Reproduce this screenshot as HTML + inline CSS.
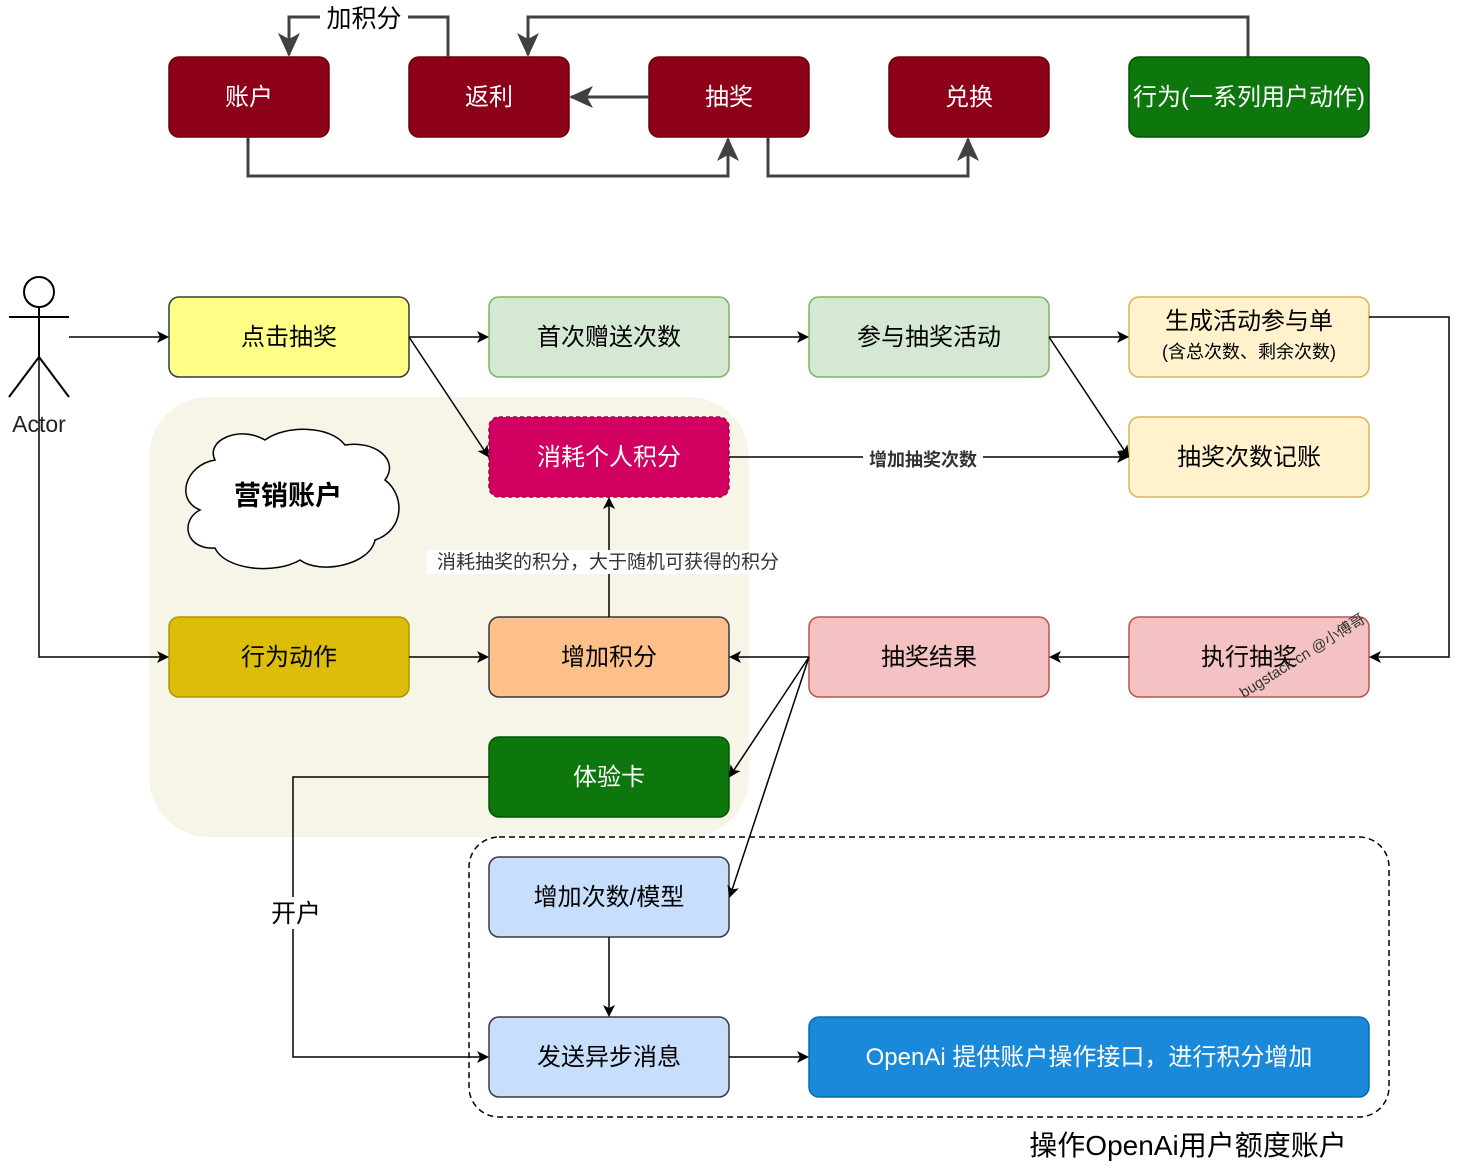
<!DOCTYPE html>
<html><head><meta charset="utf-8"><style>
body{margin:0;background:#fff}
text{font-family:"Liberation Sans","Noto Sans CJK SC",sans-serif}
</style></head><body>
<svg width="1460" height="1168" viewBox="0 0 1460 1168" xmlns="http://www.w3.org/2000/svg">
<defs>
<marker id="a" markerWidth="12" markerHeight="12" refX="10" refY="6" orient="auto" markerUnits="userSpaceOnUse"><path d="M0,0 L12,6 L0,12 L3,6 Z" fill="#000"/></marker>
<marker id="g" markerWidth="24" markerHeight="24" refX="22" refY="12" orient="auto" markerUnits="userSpaceOnUse"><path d="M0,1 L24,12 L0,23 L6,12 Z" fill="#404040"/></marker>
</defs>
<rect x="149" y="397" width="600" height="440" rx="60" fill="#f7f5e7"/>
<rect x="469" y="837" width="920" height="280" rx="30" fill="none" stroke="#000" stroke-width="1.5" stroke-dasharray="6,4"/>
<g stroke="#6f0000" stroke-width="1.5" fill="#8c001a">
<rect x="169" y="57" width="160" height="80" rx="10"/>
<rect x="409" y="57" width="160" height="80" rx="10"/>
<rect x="649" y="57" width="160" height="80" rx="10"/>
<rect x="889" y="57" width="160" height="80" rx="10"/>
</g>
<rect x="1129" y="57" width="240" height="80" rx="10" fill="#0d760d" stroke="#005700" stroke-width="1.5"/>
<g font-size="24" fill="#fff" text-anchor="middle">
<text x="249" y="105">账户</text><text x="489" y="105">返利</text><text x="729" y="105">抽奖</text><text x="969" y="105">兑换</text><text x="1249" y="105">行为(一系列用户动作)</text>
</g>
<g stroke="#404040" stroke-width="3" fill="none">
<path d="M448,57 V17 H289 V55" marker-end="url(#g)"/>
<path d="M1248,57 V17 H528 V55" marker-end="url(#g)"/>
<path d="M649,97 H571" marker-end="url(#g)"/>
<path d="M248,137 V176 H728 V139" marker-end="url(#g)"/>
<path d="M768,137 V176 H968 V139" marker-end="url(#g)"/>
</g>
<rect x="320" y="3" width="88" height="28" fill="#fff"/>
<text x="364" y="27" font-size="25" text-anchor="middle" fill="#000">加积分</text>
<g stroke="#000" stroke-width="2" fill="#fff">
<circle cx="39" cy="292" r="15"/>
<path d="M39,307 V357 M9,317 H69 M39,357 L9,397 M39,357 L69,397" fill="none"/>
</g>
<text x="39" y="432" font-size="23" text-anchor="middle" fill="#222">Actor</text>
<path d="M215,460 C205,440 240,425 265,440 C285,425 330,425 345,445 C375,440 400,460 385,480 C405,495 405,530 375,540 C370,565 320,575 300,560 C275,575 225,570 215,548 C185,550 180,520 200,510 C175,500 185,465 215,460 Z" fill="#fff" stroke="#000" stroke-width="1.5"/>
<text x="288" y="505" font-size="27" font-weight="bold" text-anchor="middle">营销账户</text>
<g stroke-width="1.5">
<rect x="169" y="297" width="240" height="80" rx="10" fill="#ffff88" stroke="#36393d"/>
<rect x="489" y="297" width="240" height="80" rx="10" fill="#d5e8d4" stroke="#82b366"/>
<rect x="809" y="297" width="240" height="80" rx="10" fill="#d5e8d4" stroke="#82b366"/>
<rect x="1129" y="297" width="240" height="80" rx="10" fill="#fff2cc" stroke="#d6b656"/>
<rect x="1129" y="417" width="240" height="80" rx="10" fill="#fff2cc" stroke="#d6b656"/>
<rect x="489" y="417" width="240" height="80" rx="10" fill="#d20060" stroke="#a50040" stroke-dasharray="4,3"/>
<rect x="169" y="617" width="240" height="80" rx="10" fill="#dcbe0a" stroke="#b09500"/>
<rect x="489" y="617" width="240" height="80" rx="10" fill="#fdc08a" stroke="#36393d"/>
<rect x="809" y="617" width="240" height="80" rx="10" fill="#f4c2c2" stroke="#b85450"/>
<rect x="1129" y="617" width="240" height="80" rx="10" fill="#f4c2c2" stroke="#b85450"/>
<rect x="489" y="737" width="240" height="80" rx="10" fill="#0d760d" stroke="#005700"/>
<rect x="489" y="857" width="240" height="80" rx="10" fill="#c7dffc" stroke="#36393d"/>
<rect x="489" y="1017" width="240" height="80" rx="10" fill="#c7dffc" stroke="#36393d"/>
<rect x="809" y="1017" width="560" height="80" rx="10" fill="#1b89d9" stroke="#006eaf"/>
</g>
<g font-size="24" text-anchor="middle" fill="#000">
<text x="289" y="345">点击抽奖</text>
<text x="609" y="345">首次赠送次数</text>
<text x="929" y="345">参与抽奖活动</text>
<text x="1249" y="329">生成活动参与单</text>
<text x="1249" y="358" font-size="18">(含总次数、剩余次数)</text>
<text x="1249" y="465">抽奖次数记账</text>
<text x="609" y="465" fill="#fff">消耗个人积分</text>
<text x="289" y="665">行为动作</text>
<text x="609" y="665">增加积分</text>
<text x="929" y="665">抽奖结果</text>
<text x="1249" y="665">执行抽奖</text>
<text x="609" y="785" fill="#fff">体验卡</text>
<text x="609" y="905">增加次数/模型</text>
<text x="609" y="1065">发送异步消息</text>
<text x="1089" y="1065" fill="#fff">OpenAi 提供账户操作接口，进行积分增加</text>
</g>
<text x="1305" y="660" font-size="15" fill="#333" text-anchor="middle" transform="rotate(-32 1305 660)">bugstack.cn @小傅哥</text>
<g stroke="#000" stroke-width="1.5" fill="none" marker-end="url(#a)">
<path d="M69,337 H167"/>
<path d="M39,357 V657 H167"/>
<path d="M409,337 H487"/>
<path d="M409,337 L488,456"/>
<path d="M729,337 H807"/>
<path d="M1049,337 H1127"/>
<path d="M1049,337 L1128,456"/>
<path d="M729,457 H1127"/>
<path d="M1369,317 H1449 V657 H1371"/>
<path d="M1129,657 H1051"/>
<path d="M809,657 H731"/>
<path d="M809,657 L730,776"/>
<path d="M809,657 L730,896"/>
<path d="M409,657 H487"/>
<path d="M609,617 V499"/>
<path d="M609,937 V1015"/>
<path d="M729,1057 H807"/>
<path d="M489,777 H293 V1057 H487"/>
</g>
<rect x="863" y="449" width="120" height="20" fill="#fff"/>
<text x="923" y="466" font-size="18" font-weight="bold" text-anchor="middle" fill="#333">增加抽奖次数</text>
<rect x="427" y="550" width="362" height="24" fill="#fff"/>
<text x="608" y="568" font-size="19" text-anchor="middle" fill="#333">消耗抽奖的积分，大于随机可获得的积分</text>
<rect x="266" y="897" width="58" height="32" fill="#fff"/>
<text x="296" y="922" font-size="25" text-anchor="middle">开户</text>
<text x="1188" y="1155" font-size="28" text-anchor="middle">操作OpenAi用户额度账户</text>
</svg>
</body></html>
